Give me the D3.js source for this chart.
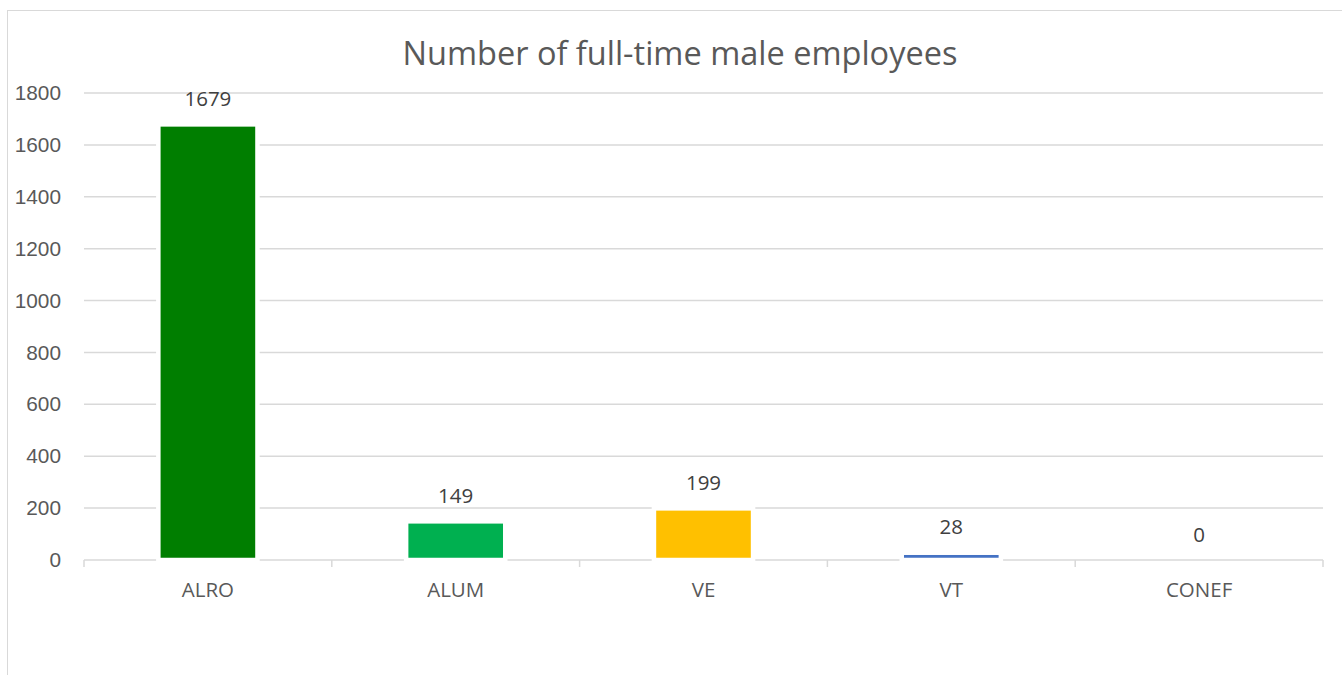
<!DOCTYPE html>
<html>
<head>
<meta charset="utf-8">
<script src="https://cdn.jsdelivr.net/npm/d3@7"></script>
<style>
    html, body { margin: 0; padding: 0; background: #fff; }
    svg { display: block; font-family: "Open Sans", "Segoe UI", sans-serif; }
</style>
</head>
<body>
<div id="chart"></div>
<script>
// full-time male employees bar chart

const categories = ["ALRO", "ALUM", "VE", "VT", "CONEF"];
const values = [1679, 149, 199, 28, 0];
const barColors = ["#007e00", "#00b050", "#ffc000", "#4472c4", "#a5a5a5"];
const yTicks = [0, 200, 400, 600, 800, 1000, 1200, 1400, 1600, 1800];
const chartTitle = "Number of full-time male employees";

const width = 1342;
const height = 675;
const textColor = "#595959";
const gridColor = "#d9d9d9";

const svg = d3.select("#chart")
    .append("svg")
    .attr("width", width)
    .attr("height", height);

// chart area border (runs past the right and bottom edge)
svg.append("rect")
    .attr("x", 7.5)
    .attr("y", 10.5)
    .attr("width", 1400)
    .attr("height", 800)
    .attr("fill", "#fff")
    .attr("stroke", gridColor)
    .attr("stroke-width", 1);

const plot = { left: 84, right: 1323, top: 93, bottom: 560 };

const x = d3.scaleBand()
    .domain(categories)
    .range([plot.left, plot.right])
    .paddingInner(0.6)
    .paddingOuter(0.3);

const xEdges = d3.scaleBand()
    .domain(categories)
    .range([plot.left, plot.right]);

const y = d3.scaleLinear()
    .domain([0, 1800])
    .range([plot.bottom, plot.top]);

// title
svg.append("text")
    .attr("x", 680)
    .attr("y", 65)
    .attr("text-anchor", "middle")
    .style("font-size", "32.5px")
    .style("fill", textColor)
    .text(chartTitle);

// gridlines
svg.append("g")
    .selectAll("line")
    .data(yTicks.filter(d => d > 0))
    .enter()
    .append("line")
    .attr("x1", plot.left)
    .attr("x2", plot.right)
    .attr("y1", d => y(d))
    .attr("y2", d => y(d))
    .attr("stroke", gridColor)
    .attr("stroke-width", 1.5);

// y axis labels
const yAxis = svg.append("g")
    .attr("transform", `translate(${plot.left},0)`)
    .call(d3.axisLeft(y).tickValues(yTicks).tickFormat(d3.format("d")).tickSize(0).tickPadding(23));
yAxis.select(".domain").remove();
yAxis.selectAll("text")
    .style("font-size", "20.8px")
    .style("font-family", "inherit")
    .style("fill", textColor);

// x axis line and ticks
svg.append("line")
    .attr("x1", plot.left)
    .attr("x2", plot.right)
    .attr("y1", plot.bottom)
    .attr("y2", plot.bottom)
    .attr("stroke", gridColor)
    .attr("stroke-width", 1.5);

const tickXs = categories.map(c => xEdges(c)).concat([plot.right]);
svg.append("g")
    .selectAll("line")
    .data(tickXs)
    .enter()
    .append("line")
    .attr("x1", d => d)
    .attr("x2", d => d)
    .attr("y1", plot.bottom)
    .attr("y2", plot.bottom + 7)
    .attr("stroke", gridColor)
    .attr("stroke-width", 1.5);

svg.append("g")
    .selectAll("text")
    .data(categories)
    .enter()
    .append("text")
    .attr("x", d => x(d) + x.bandwidth() / 2)
    .attr("y", 597)
    .attr("text-anchor", "middle")
    .style("font-size", "20.5px")
    .style("fill", textColor)
    .text(d => d);

// bars with white outline
const barData = categories.map((c, i) => ({ name: c, value: values[i], color: barColors[i] }));

svg.append("g")
    .selectAll("rect")
    .data(barData.filter(d => d.value > 0))
    .enter()
    .append("rect")
    .attr("x", d => x(d.name))
    .attr("y", d => y(d.value))
    .attr("width", x.bandwidth())
    .attr("height", d => y(0) - y(d.value))
    .attr("fill", d => d.color)
    .attr("stroke", "#fff")
    .attr("stroke-width", 4.5);

// value labels
svg.append("g")
    .selectAll("text")
    .data(barData)
    .enter()
    .append("text")
    .attr("x", d => x(d.name) + x.bandwidth() / 2)
    .attr("y", d => y(d.value) - 18.5)
    .attr("text-anchor", "middle")
    .style("font-size", "20.5px")
    .style("fill", "#404040")
    .text(d => d.value);
</script>
</body>
</html>
